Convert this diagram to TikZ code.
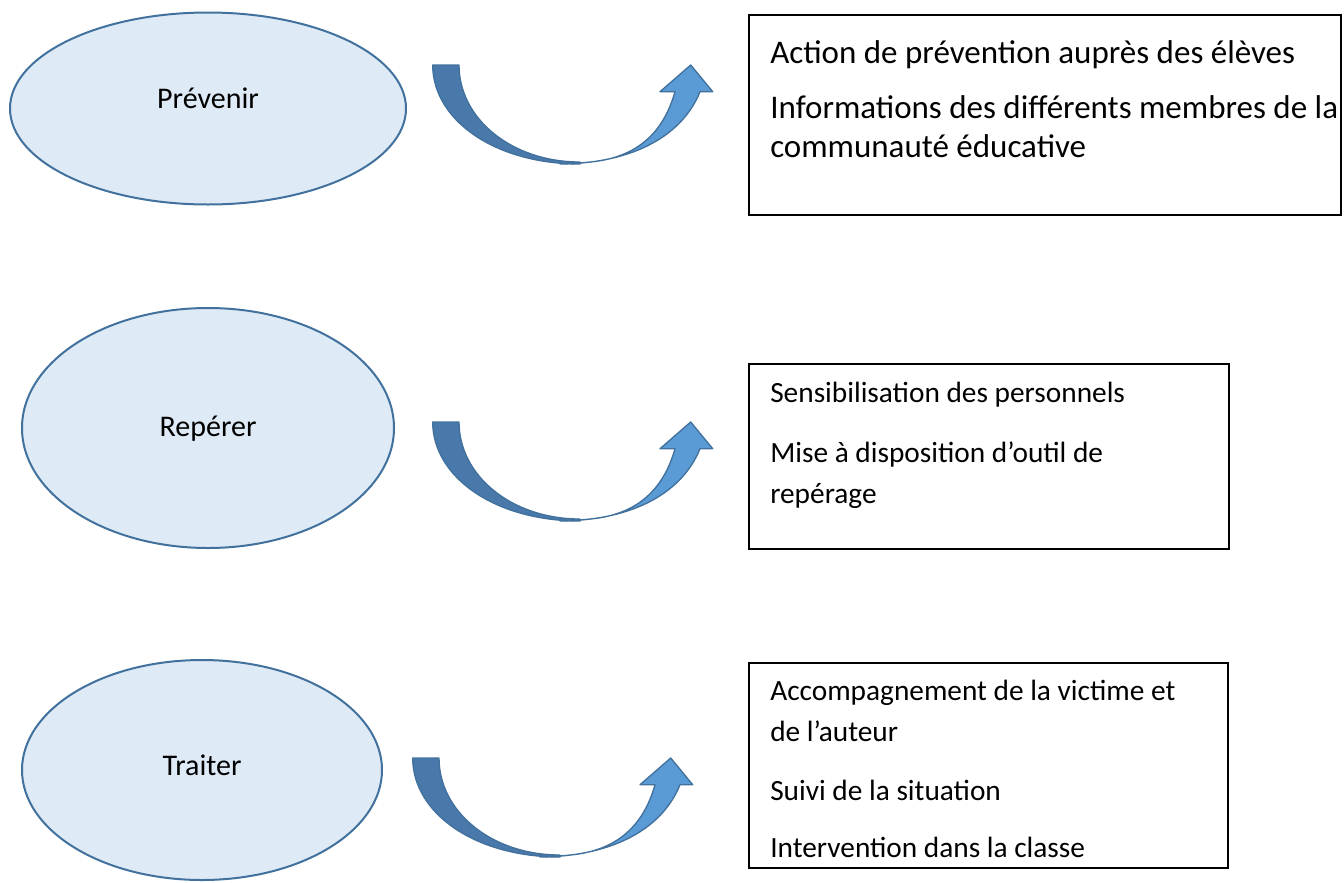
\documentclass[tikz,border=0pt]{standalone}
\usepackage{fontspec}
\setmainfont{Carlito}
\usetikzlibrary{shapes.geometric,fit}
\definecolor{ellfill}{HTML}{DEEAF6}
\definecolor{ellline}{HTML}{41719C}
\definecolor{arrdark}{HTML}{4978AA}
\definecolor{arrlight}{HTML}{5B9BD5}
\definecolor{arrline}{HTML}{41719C}
\tikzset{
  oval/.style={ellipse, draw=ellline, fill=ellfill, line width=1.5pt, inner sep=0pt},
  ovaltext/.style={anchor=base, inner sep=0pt, font=\fontsize{22.5}{27}\selectfont},
  txtbox/.style={draw=black, line width=1.1pt, inner sep=0pt, fill=white},
  boxline/.style={anchor=base west, inner sep=0pt, font=\fontsize{22}{26}\selectfont},
  bigline/.style={boxline, font=\fontsize{24.75}{29}\selectfont},
  curvarrow/.pic={
    \filldraw[fill=arrdark, draw=arrline, line width=1pt, line join=round]
      (432.7,65) .. controls (432.7,119.6) and (494.2,164) .. (580,164)
      -- (580,162) .. controls (511.4,162) and (459,118.5) .. (459,65) -- cycle;
    \filldraw[fill=arrlight, draw=arrline, line width=1pt, line join=round]
      (560,164) .. controls (636.7,163.3) and (683.3,133.3) .. (700,91.7)
      -- (712.7,91.7) -- (690.7,65) -- (660,91.7) -- (675,91.7)
      .. controls (663.3,133.3) and (636.7,156.7) .. (593.3,161.7)
      .. controls (580,163) and (570,163.8) .. (560,164) -- cycle;
  }
}
\begin{document}
\begin{tikzpicture}[x=0.75pt,y=-0.75pt]
\useasboundingbox (0,0) rectangle (1344,882);

% ellipses
\node[oval, minimum width=297pt, minimum height=144pt] (e1) at (208,108.5) {};
\node[ovaltext] (t1) at (208,108) {Prévenir};
\node[oval, minimum width=279pt, minimum height=180pt] (e2) at (208,428) {};
\node[ovaltext] (t2) at (208,436) {Repérer};
\node[oval, minimum width=270pt, minimum height=165pt] (e3) at (202,770) {};
\node[ovaltext] (t3) at (202,775) {Traiter};

% curved arrows
\pic (a1) at (0,0) {curvarrow};
\pic (a2) at (0,357) {curvarrow};
\pic (a3) at (-20,693) {curvarrow};

% boxes
\node[txtbox, fit={(749,15) (1341,215)}] (b1) {};
\node[bigline] (b1a) at (770,63) {Action de prévention auprès des élèves};
\node[bigline] (b1b) at (770,118) {Informations des différents membres de la};
\node[bigline] (b1c) at (770,157) {communauté éducative};

\node[txtbox, fit={(749,364) (1229,549)}] (b2) {};
\node[boxline] (b2a) at (770,402) {Sensibilisation des personnels};
\node[boxline] (b2b) at (770,462) {Mise à disposition d’outil de};
\node[boxline] (b2c) at (770,503) {repérage};

\node[txtbox, fit={(749,663) (1228,868)}] (b3) {};
\node[boxline] (b3a) at (770,700) {Accompagnement de la victime et};
\node[boxline] (b3b) at (770,741) {de l’auteur};
\node[boxline] (b3c) at (770,800) {Suivi de la situation};
\node[boxline] (b3d) at (770,857) {Intervention dans la classe};
\end{tikzpicture}
\end{document}
